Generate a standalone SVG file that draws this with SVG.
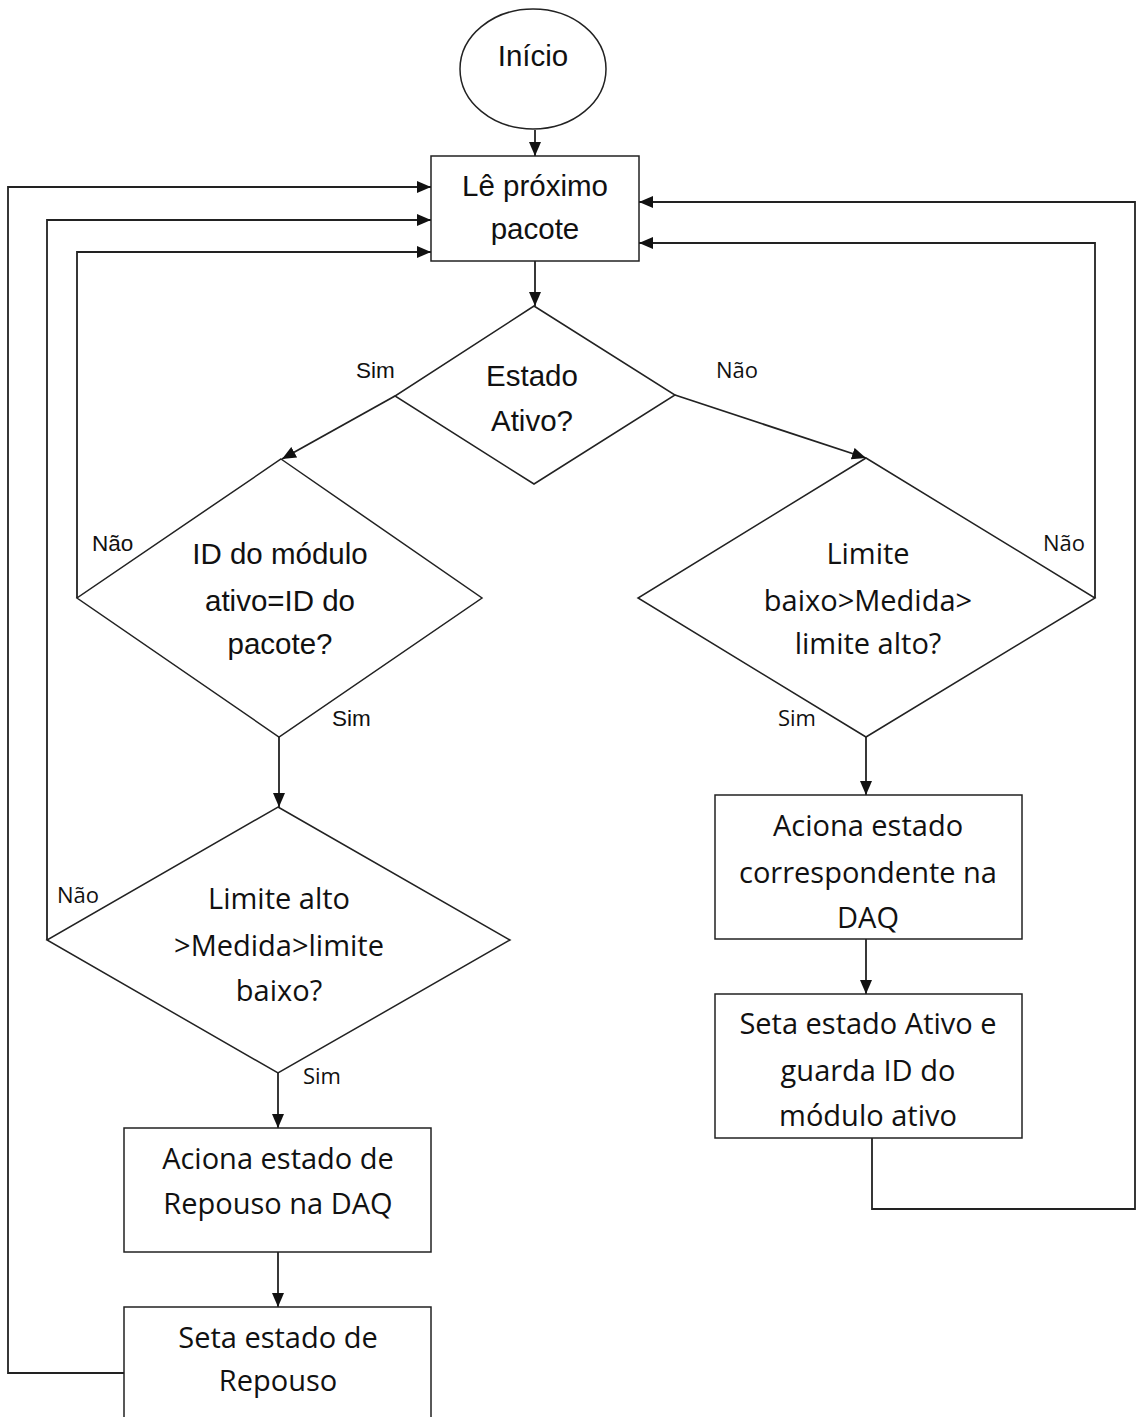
<svg xmlns="http://www.w3.org/2000/svg" width="1137" height="1417" viewBox="0 0 1137 1417">
<style>
.shape{fill:#fff;stroke:#222;stroke-width:1.5}
.conn{fill:none;stroke:#222;stroke-width:1.8}
.n{font-family:"Liberation Sans",Arial,sans-serif;font-size:29.5px;fill:#111;text-anchor:middle}
.w{font-family:"Open Sans",sans-serif;font-size:29px;fill:#111;text-anchor:middle}
.ln{font-family:"Liberation Sans",Arial,sans-serif;font-size:22.5px;fill:#111}
.lw{font-family:"Open Sans",sans-serif;font-size:22px;fill:#111}
</style>
<defs>
<marker id="ah" markerUnits="userSpaceOnUse" markerWidth="14" markerHeight="12" refX="14" refY="6" orient="auto">
<path d="M0,0 L14,6 L0,12 z" fill="#111"/>
</marker>
</defs>
<rect width="1137" height="1417" fill="#fff"/>
<g id="connectors">
<line class="conn" x1="535" y1="130" x2="535" y2="156" marker-end="url(#ah)"/>
<line class="conn" x1="535" y1="261" x2="535" y2="306" marker-end="url(#ah)"/>
<line class="conn" x1="395" y1="396" x2="282" y2="459" marker-end="url(#ah)"/>
<line class="conn" x1="675" y1="395" x2="866" y2="458" marker-end="url(#ah)"/>
<line class="conn" x1="279" y1="737" x2="279" y2="807" marker-end="url(#ah)"/>
<line class="conn" x1="278" y1="1073" x2="278" y2="1128" marker-end="url(#ah)"/>
<line class="conn" x1="278" y1="1252" x2="278" y2="1307" marker-end="url(#ah)"/>
<line class="conn" x1="866" y1="737" x2="866" y2="795" marker-end="url(#ah)"/>
<line class="conn" x1="866" y1="939" x2="866" y2="994" marker-end="url(#ah)"/>
<polyline class="conn" points="77,598 77,252 431,252" marker-end="url(#ah)"/>
<polyline class="conn" points="47,940 47,220 431,220" marker-end="url(#ah)"/>
<polyline class="conn" points="124,1373 8,1373 8,187 431,187" marker-end="url(#ah)"/>
<polyline class="conn" points="1095,598 1095,243 639,243" marker-end="url(#ah)"/>
<polyline class="conn" points="872,1138 872,1209 1135,1209 1135,202 639,202" marker-end="url(#ah)"/>
</g>
<g id="inicio">
<ellipse class="shape" cx="533" cy="69" rx="73" ry="60"/>
<text class="n" x="533" y="66">Início</text>
</g>
<g id="le-proximo">
<rect class="shape" x="431" y="156" width="208" height="105"/>
<text class="n" x="535" y="196">Lê próximo</text>
<text class="n" x="535" y="239">pacote</text>
</g>
<g id="estado-ativo">
<polygon class="shape" points="534,306 675,395 534,484 395,396"/>
<text class="n" x="532" y="386">Estado</text>
<text class="n" x="532" y="431">Ativo?</text>
<text class="ln" x="356" y="378">Sim</text>
<text class="lw" x="716" y="378">Não</text>
</g>
<g id="id-modulo">
<polygon class="shape" points="281,459 482,598 279,737 77,598"/>
<text class="n" x="280" y="564">ID do módulo</text>
<text class="n" x="280" y="611">ativo=ID do</text>
<text class="n" x="280" y="654">pacote?</text>
<text class="ln" x="92" y="551">Não</text>
<text class="ln" x="332" y="726">Sim</text>
</g>
<g id="limite-baixo">
<polygon class="shape" points="866,458 1095,598 866,737 638,598"/>
<text class="w" x="868" y="564">Limite</text>
<text class="w" x="868" y="611">baixo&gt;Medida&gt;</text>
<text class="w" x="868" y="654">limite alto?</text>
<text class="lw" x="1043" y="551">Não</text>
<text class="lw" x="778" y="726">Sim</text>
</g>
<g id="limite-alto">
<polygon class="shape" points="278,807 510,940 278,1073 47,940"/>
<text class="w" x="279" y="909">Limite alto</text>
<text class="w" x="279" y="956">&gt;Medida&gt;limite</text>
<text class="w" x="279" y="1001">baixo?</text>
<text class="lw" x="57" y="903">Não</text>
<text class="lw" x="303" y="1084">Sim</text>
</g>
<g id="aciona-repouso">
<rect class="shape" x="124" y="1128" width="307" height="124"/>
<text class="w" x="278" y="1169">Aciona estado de</text>
<text class="w" x="278" y="1214">Repouso na DAQ</text>
</g>
<g id="seta-repouso">
<rect class="shape" x="124" y="1307" width="307" height="130"/>
<text class="w" x="278" y="1348">Seta estado de</text>
<text class="w" x="278" y="1391">Repouso</text>
</g>
<g id="aciona-correspondente">
<rect class="shape" x="715" y="795" width="307" height="144"/>
<text class="w" x="868" y="836">Aciona estado</text>
<text class="w" x="868" y="883">correspondente na</text>
<text class="w" x="868" y="928">DAQ</text>
</g>
<g id="seta-ativo">
<rect class="shape" x="715" y="994" width="307" height="144"/>
<text class="w" x="868" y="1034">Seta estado Ativo e</text>
<text class="w" x="868" y="1081">guarda ID do</text>
<text class="w" x="868" y="1126">módulo ativo</text>
</g>
</svg>
